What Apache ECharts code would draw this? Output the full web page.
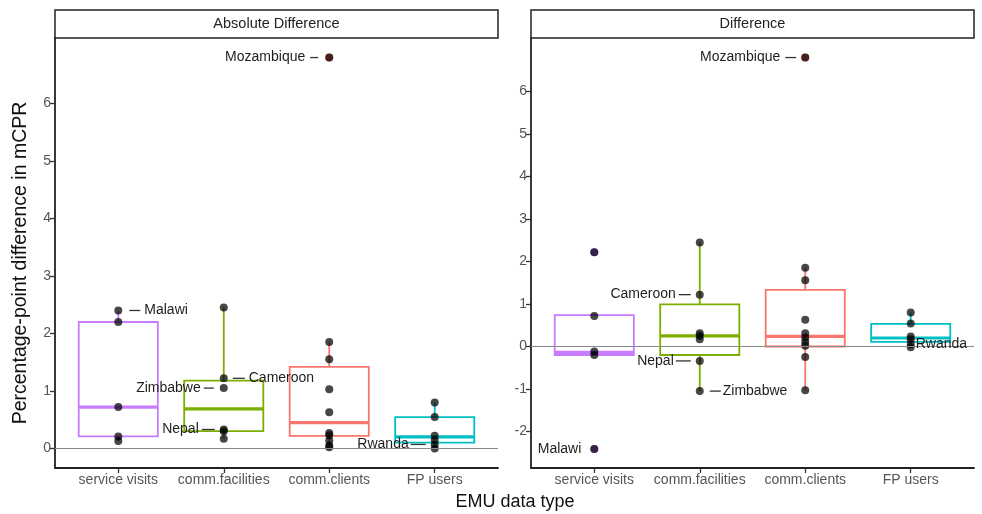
<!DOCTYPE html>
<html><head><meta charset="utf-8">
<script src="https://cdn.jsdelivr.net/npm/echarts@6/dist/echarts.min.js"></script>
<style>html,body{margin:0;padding:0;background:#fff}#c{width:982px;height:514px}</style>
</head><body><div id="c"></div>
<script>
// ---------------- DATA ----------------
const categories = ['service visits', 'comm.facilities', 'comm.clients', 'FP users'];
const panelTitles = ['Absolute Difference', 'Difference'];
const xAxisTitle = 'EMU data type';
const yAxisTitle = 'Percentage-point difference in mCPR';

// country-level points per category
const absPoints = [
  [2.40, 2.20, 0.72, 0.21, 0.13],
  [2.45, 1.22, 1.05, 0.33, 0.30, 0.17],
  [6.80, 1.85, 1.55, 1.03, 0.63, 0.27, 0.23, 0.14, 0.05, 0.02],
  [0.80, 0.545, 0.22, 0.145, 0.07, 0.00]
];
const diffPoints = [
  [2.22, 0.72, -0.12, -0.20, -2.41],
  [2.45, 1.22, 0.31, 0.25, 0.17, -0.34, -1.05],
  [6.80, 1.85, 1.56, 0.63, 0.31, 0.21, 0.11, 0.02, -0.25, -1.03],
  [0.80, 0.54, 0.235, 0.17, 0.06, -0.02]
];

// box stats: [lower whisker, Q1, median, Q3, upper whisker]
const absBoxes = [
  [0.13, 0.21, 0.72, 2.20, 2.40],
  [0.17, 0.30, 0.69, 1.18, 2.45],
  [0.02, 0.22, 0.45, 1.42, 1.85],
  [0.00, 0.10, 0.20, 0.545, 0.80]
];
const diffBoxes = [
  [-0.20, -0.20, -0.14, 0.74, 0.74],
  [-1.05, -0.20, 0.25, 0.99, 2.45],
  [-1.03, 0.00, 0.24, 1.33, 1.85],
  [-0.02, 0.11, 0.20, 0.53, 0.80]
];

// outliers: category index, value
const absOutlierCats = [2];
const absOutlierValues = [6.80];
const diffOutlierCats = [0, 0, 2];
const diffOutlierValues = [2.22, -2.41, 6.80];

// country labels
const absLabelNames = ['Malawi', 'Zimbabwe', 'Nepal', 'Cameroon', 'Mozambique', 'Rwanda'];
const absLabelCats = [0, 1, 1, 1, 2, 3];
const absLabelValues = [2.40, 1.05, 0.33, 1.22, 6.80, 0.07];
const diffLabelNames = ['Mozambique', 'Malawi', 'Cameroon', 'Nepal', 'Zimbabwe', 'Rwanda'];
const diffLabelCats = [2, 0, 1, 1, 1, 3];
const diffLabelValues = [6.80, -2.41, 1.22, -0.34, -1.05, 0.06];

// axis ticks and limits
const absYTicks = [0, 1, 2, 3, 4, 5, 6];
const diffYTicks = [-2, -1, 0, 1, 2, 3, 4, 5, 6];
const absYRange = [-0.34, 7.14];
const diffYRange = [-2.86, 7.26];

// ---------------- STYLE / LAYOUT ----------------
const palette = ['#C77CFF', '#7CAE00', '#F8766D', '#00BFC4'];
const FONT = '"Liberation Sans", Arial, sans-serif';
// label layout: [segment start dx, segment end dx, text dx, align]
const absLabelLayout = [
  [11, 22, 26, 'left'],
  [-20, -10, -23, 'right'],
  [-22, -9, -25, 'right'],
  [9, 21, 25, 'left'],
  [-19, -11, -24, 'right'],
  [-24, -9, -26, 'right']
];
const diffLabelLayout = [
  [-20, -9, -25, 'right'],
  [null, null, -13, 'right'],
  [-21, -9, -24, 'right'],
  [-24, -9, -26, 'right'],
  [10, 21, 23, 'left'],
  [null, null, 5, 'left']
];
const grids = [
  { left: 55, right: 484, top: 38, bottom: 46 },
  { left: 531, right: 8, top: 38, bottom: 46 }
];

const chart = echarts.init(document.getElementById('c'), null, { renderer: 'canvas' });

function boxRender(params, api) {
  const x = api.value(0);
  const lo = api.value(1), q1 = api.value(2), med = api.value(3), q3 = api.value(4), hi = api.value(5);
  const pm = api.coord([x, med]);
  const hw = api.size([0.75, 0])[0] / 2;
  const yq1 = api.coord([x, q1])[1], yq3 = api.coord([x, q3])[1];
  const ylo = api.coord([x, lo])[1], yhi = api.coord([x, hi])[1];
  const col = palette[Math.round(x) - 1];
  return {
    type: 'group',
    children: [
      { type: 'line', shape: { x1: pm[0], y1: yq3, x2: pm[0], y2: yhi }, style: { stroke: col, lineWidth: 1.8 } },
      { type: 'line', shape: { x1: pm[0], y1: yq1, x2: pm[0], y2: ylo }, style: { stroke: col, lineWidth: 1.8 } },
      { type: 'rect', shape: { x: pm[0] - hw, y: yq3, width: 2 * hw, height: yq1 - yq3 }, style: { fill: 'rgba(255,255,255,0)', stroke: col, lineWidth: 1.8 } },
      { type: 'line', shape: { x1: pm[0] - hw, y1: pm[1], x2: pm[0] + hw, y2: pm[1] }, style: { stroke: col, lineWidth: 3.2 } }
    ]
  };
}

function labelRenderFactory(names, layout) {
  return function (params, api) {
    const i = params.dataIndex;
    const p = api.coord([api.value(0), api.value(1)]);
    const L = layout[i];
    const children = [];
    if (L[0] !== null) {
      children.push({ type: 'line', shape: { x1: p[0] + L[0], y1: p[1], x2: p[0] + L[1], y2: p[1] }, style: { stroke: '#333', lineWidth: 1.3 } });
    }
    children.push({
      type: 'text',
      style: { text: names[i], x: p[0] + L[2], y: p[1], align: L[3], verticalAlign: 'middle', fill: '#1e1e1e', font: '14px ' + FONT }
    });
    return { type: 'group', children: children };
  };
}

function flatPoints(arr) {
  const out = [];
  arr.forEach((vals, ci) => vals.forEach(v => out.push([ci + 1, v])));
  return out;
}

function makeXAxis(gi) {
  return {
    type: 'value', gridIndex: gi, min: 0.4, max: 4.6,
    axisLine: { show: true, onZero: false, lineStyle: { color: '#222', width: 1.8 } },
    axisTick: { show: true, customValues: [1, 2, 3, 4], length: 5, lineStyle: { color: '#333', width: 1.3 } },
    axisLabel: { customValues: [1, 2, 3, 4], formatter: v => categories[Math.round(v) - 1], color: '#555', fontSize: 14, fontFamily: FONT, margin: 5 },
    splitLine: { show: false }
  };
}
function makeYAxis(gi, range, ticks) {
  return {
    type: 'value', gridIndex: gi, min: range[0], max: range[1],
    axisLine: { show: true, onZero: false, lineStyle: { color: '#222', width: 1.8 } },
    axisTick: { show: true, customValues: ticks, length: 5, lineStyle: { color: '#333', width: 1.3 } },
    axisLabel: { customValues: ticks, color: '#555', fontSize: 14, fontFamily: FONT, margin: 4 },
    splitLine: { show: false }
  };
}

function panelSeries(gi, boxes, points, outCats, outVals, labNames, labCats, labVals, labLayout) {
  return [
    {
      type: 'custom', xAxisIndex: gi, yAxisIndex: gi, renderItem: boxRender,
      data: boxes.map((b, i) => [i + 1].concat(b)),
      encode: { x: 0, y: [1, 2, 3, 4, 5] }, z: 2, silent: true,
      markLine: {
        silent: true, symbol: ['none', 'none'], label: { show: false },
        lineStyle: { color: '#8a8a8a', width: 1.2, type: 'solid' },
        data: [{ yAxis: 0 }], animation: false
      }
    },
    {
      type: 'scatter', xAxisIndex: gi, yAxisIndex: gi, symbolSize: 8, z: 3, silent: true,
      data: outCats.map((c, i) => ({ value: [c + 1, outVals[i]], itemStyle: { color: palette[c], opacity: 1 } }))
    },
    {
      type: 'scatter', xAxisIndex: gi, yAxisIndex: gi, symbolSize: 8, z: 4, silent: true,
      itemStyle: { color: 'rgba(0,0,0,0.72)', opacity: 1 },
      data: flatPoints(points)
    },
    {
      type: 'custom', xAxisIndex: gi, yAxisIndex: gi, z: 5, silent: true,
      renderItem: labelRenderFactory(labNames, labLayout),
      data: labCats.map((c, i) => [c + 1, labVals[i]])
    }
  ];
}

const option = {
  animation: false,
  backgroundColor: '#fff',
  grid: grids,
  xAxis: [makeXAxis(0), makeXAxis(1)],
  yAxis: [makeYAxis(0, absYRange, absYTicks), makeYAxis(1, diffYRange, diffYTicks)],
  series: [].concat(
    panelSeries(0, absBoxes, absPoints, absOutlierCats, absOutlierValues, absLabelNames, absLabelCats, absLabelValues, absLabelLayout),
    panelSeries(1, diffBoxes, diffPoints, diffOutlierCats, diffOutlierValues, diffLabelNames, diffLabelCats, diffLabelValues, diffLabelLayout)
  ),
  graphic: [
    { type: 'rect', shape: { x: 55, y: 10, width: 443, height: 28 }, style: { fill: '#fff', stroke: '#222', lineWidth: 1.5 } },
    { type: 'text', x: 276.5, y: 24, style: { text: panelTitles[0], align: 'center', verticalAlign: 'middle', fill: '#222', font: '14.5px ' + FONT } },
    { type: 'rect', shape: { x: 531, y: 10, width: 443, height: 28 }, style: { fill: '#fff', stroke: '#222', lineWidth: 1.5 } },
    { type: 'text', x: 752.5, y: 24, style: { text: panelTitles[1], align: 'center', verticalAlign: 'middle', fill: '#222', font: '14.5px ' + FONT } },
    { type: 'text', x: 515, y: 502, style: { text: xAxisTitle, align: 'center', verticalAlign: 'middle', fill: '#111', font: '18px ' + FONT } },
    { type: 'text', x: 21, y: 263, rotation: Math.PI / 2, style: { text: yAxisTitle, align: 'center', verticalAlign: 'middle', fill: '#111', font: '19.5px ' + FONT } }
  ]
};
chart.setOption(option);
</script>
</body></html>
